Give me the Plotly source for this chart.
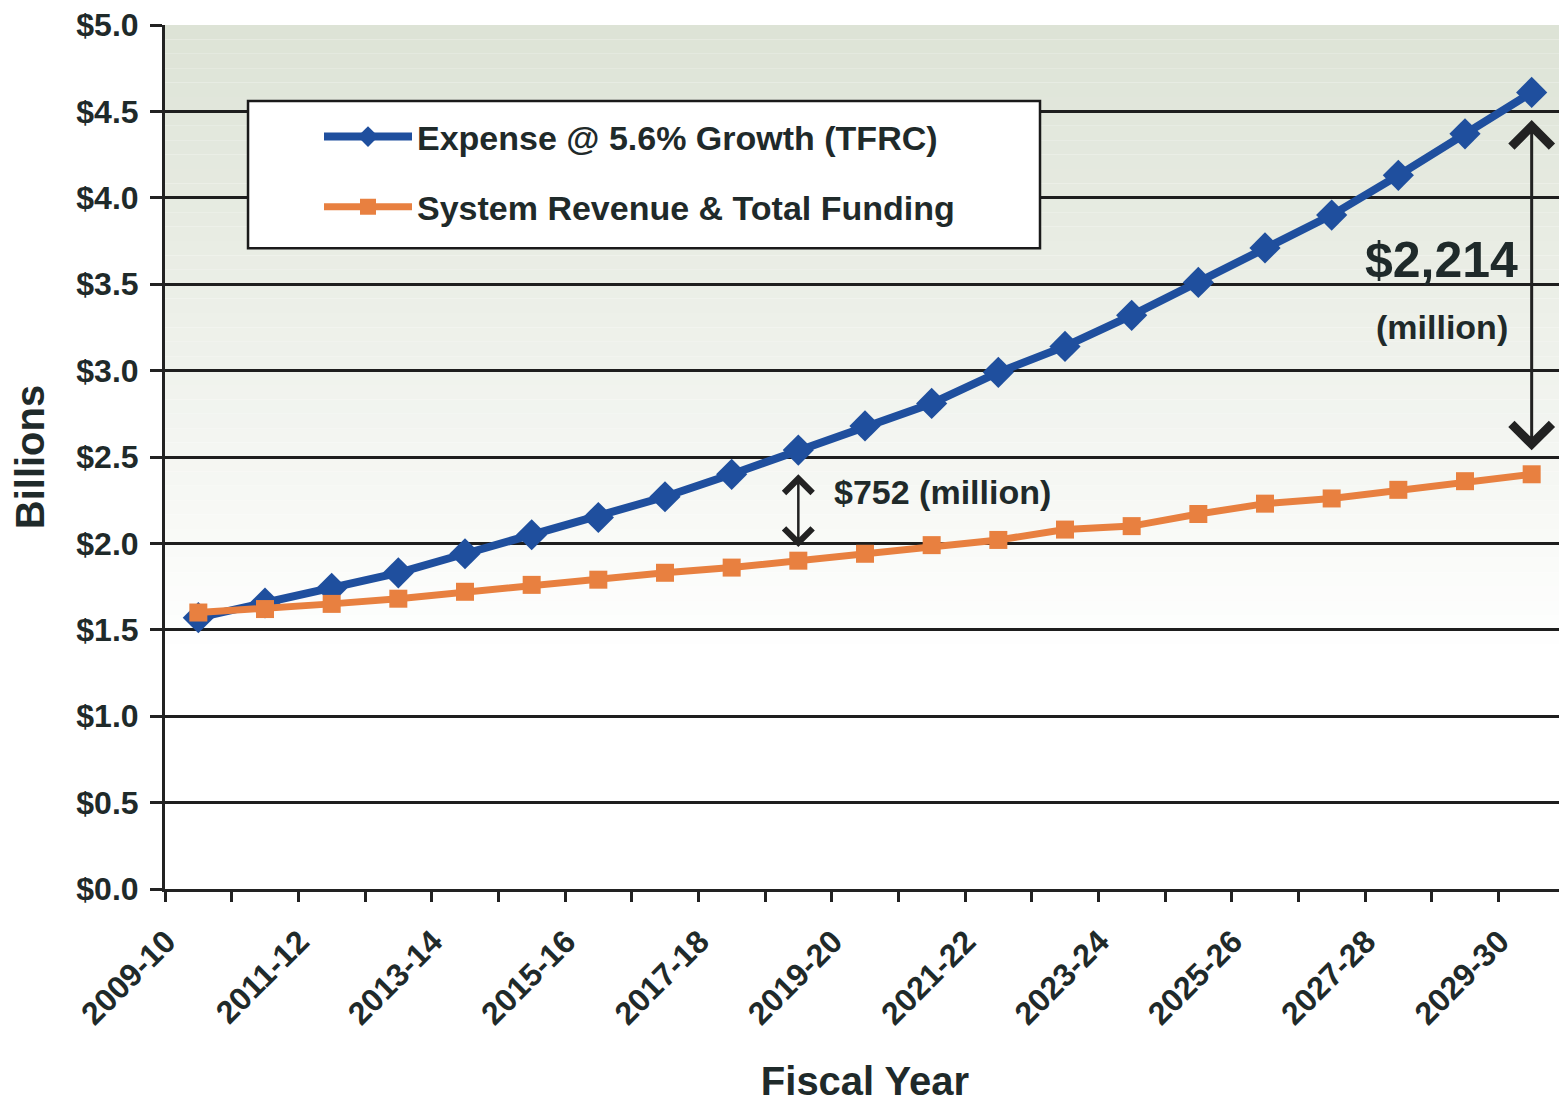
import plotly.graph_objects as go

# datos (miles de millones de dólares)
anios = ["2009-10", "2010-11", "2011-12", "2012-13", "2013-14", "2014-15", "2015-16",
         "2016-17", "2017-18", "2018-19", "2019-20", "2020-21", "2021-22", "2022-23",
         "2023-24", "2024-25", "2025-26", "2026-27", "2027-28", "2028-29", "2029-30"]
gasto = [1.57, 1.655, 1.74, 1.83, 1.94, 2.05, 2.15, 2.27, 2.40, 2.54, 2.68,
         2.81, 2.99, 3.14, 3.32, 3.51, 3.71, 3.90, 4.13, 4.37, 4.61]
ingreso = [1.60, 1.62, 1.65, 1.68, 1.72, 1.76, 1.79, 1.83, 1.86, 1.90, 1.94,
           1.99, 2.02, 2.08, 2.10, 2.17, 2.23, 2.26, 2.31, 2.36, 2.40]
etiquetas = [a if i % 2 == 0 else "" for i, a in enumerate(anios)]

texto = "#1f2a2a"
fuente = "Liberation Sans, Arial, sans-serif"

fig = go.Figure()

fig.add_trace(go.Scatter(
    x=anios, y=gasto,
    mode="lines+markers",
    name="Expense @ 5.6% Growth (TFRC)",
    legendgroup="a",
    line=dict(color="#1f4f9e", width=8),
    marker=dict(symbol="diamond", size=24, color="#1f4f9e")
))
fig.add_trace(go.Scatter(
    x=anios, y=ingreso,
    mode="lines+markers",
    name="System Revenue & Total Funding",
    legendgroup="b",
    line=dict(color="#e88040", width=7),
    marker=dict(symbol="square", size=18, color="#e88040")
))

# fondo degradado del área de trazado
formas = []
n = 60
arriba = (221, 227, 214)
for i in range(n):
    y0 = i / n
    y1 = (i + 1) / n
    t = max(0.0, min(1.0, (y1 - 0.28) / 0.72))
    c = [round(255 + (a - 255) * t) for a in arriba]
    formas.append(dict(type="rect", xref="paper", yref="paper", x0=0, x1=1, y0=y0, y1=y1,
                       fillcolor=f"rgb({c[0]},{c[1]},{c[2]})", line=dict(width=0), layer="below"))
# caja de la leyenda
formas.append(dict(type="rect", xref="paper", yref="paper", x0=0.0593, x1=0.625, y0=0.7416, y1=0.912,
                   fillcolor="white", line=dict(color="#1a1a1a", width=2.5), layer="above"))

anot = [
    dict(x=20, y=4.45, ax=20, ay=2.53, xref="x", yref="y", axref="x", ayref="y", text="",
         showarrow=True, arrowside="end+start", arrowhead=4, startarrowhead=4,
         arrowwidth=3, arrowsize=2.6, startarrowsize=2.6, arrowcolor="#222"),
    dict(x=9, y=2.40, ax=9, ay=1.97, xref="x", yref="y", axref="x", ayref="y", text="",
         showarrow=True, arrowside="end+start", arrowhead=4, startarrowhead=4,
         arrowwidth=2.5, arrowsize=2.2, startarrowsize=2.2, arrowcolor="#222"),
    dict(x=18.65, y=3.64, xref="x", yref="y", text="$2,214", showarrow=False,
         font=dict(family=fuente, size=50, color=texto, weight="bold")),
    dict(x=18.65, y=3.25, xref="x", yref="y", text="(million)", showarrow=False,
         font=dict(family=fuente, size=34, color=texto, weight="bold")),
    dict(x=9.5, y=2.30, xref="x", yref="y", text="$752 (million)", showarrow=False, xanchor="left",
         font=dict(family=fuente, size=34, color=texto, weight="bold")),
]

fig.update_layout(
    width=1559, height=1095,
    margin=dict(l=157, r=2, t=17, b=214),
    paper_bgcolor="white",
    plot_bgcolor="white",
    font=dict(family=fuente, size=32, color=texto, weight="bold"),
    shapes=formas,
    annotations=anot,
    showlegend=True,
    legend=dict(
        x=0.11, y=0.904, xanchor="left", yanchor="top",
        bgcolor="rgba(0,0,0,0)", borderwidth=0,
        font=dict(family=fuente, size=34, color=texto, weight="bold"),
        tracegroupgap=23, traceorder="grouped", itemwidth=88
    ),
    xaxis=dict(
        type="category", range=[-0.5, 20.5], automargin=False,
        tickmode="array", tickvals=anios, ticktext=etiquetas,
        tickangle=-45, tickson="boundaries",
        ticks="outside", ticklen=10, tickwidth=3, tickcolor="#222",
        ticklabelshift=-32, ticklabelstandoff=18,
        showline=True, linecolor="#222", linewidth=3,
        showgrid=False,
        tickfont=dict(family=fuente, size=32, color=texto, weight="bold"),
        title=dict(text="Fiscal Year", standoff=38,
                   font=dict(family=fuente, size=40, color=texto, weight="bold")),
    ),
    yaxis=dict(
        range=[0, 5], dtick=0.5, tickprefix="$", tickformat=".1f", automargin=False,
        ticks="outside", ticklen=12, tickwidth=3, tickcolor="#222",
        ticklabelstandoff=5, ticklabeloverflow="allow",
        showline=True, linecolor="#222", linewidth=3,
        showgrid=True, gridcolor="#1e1e1e", gridwidth=2.5,
        zeroline=False,
        tickfont=dict(family=fuente, size=32, color=texto, weight="bold"),
        title=dict(text="Billions", standoff=22,
                   font=dict(family=fuente, size=40, color=texto, weight="bold")),
    ),
)

fig.write_html("out.html")
